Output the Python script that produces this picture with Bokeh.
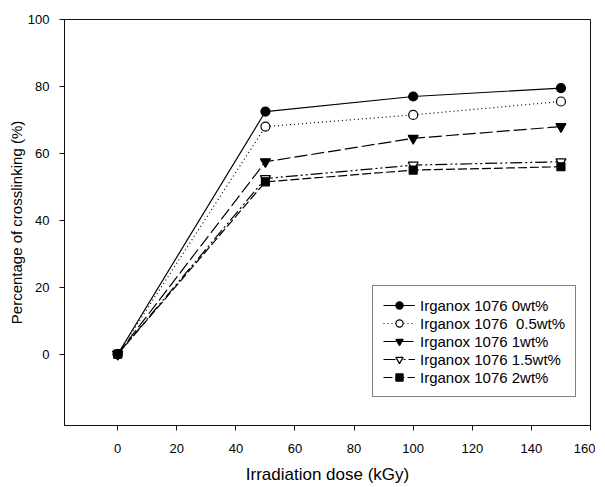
from bokeh.plotting import figure
from bokeh.models import Range1d, FixedTicker, Legend, LegendItem
from bokeh.embed import file_html
from bokeh.resources import INLINE

# ---- data ----
dose = [0, 50, 100, 150]
series_names = ["Irganox 1076 0wt%", "Irganox 1076  0.5wt%", "Irganox 1076 1wt%",
                "Irganox 1076 1.5wt%", "Irganox 1076 2wt%"]
irg_0 = [0, 72.5, 77.0, 79.5]
irg_05 = [0, 68.0, 71.5, 75.5]
irg_1 = [0, 57.5, 64.5, 68.0]
irg_15 = [0, 52.5, 56.5, 57.5]
irg_2 = [0, 51.5, 55.0, 56.0]
x_ticks = [0, 20, 40, 60, 80, 100, 120, 140, 160]
y_ticks = [0, 20, 40, 60, 80, 100]

FONT = "Liberation Sans"

p = figure(width=595, height=486, output_backend="svg", toolbar_location=None,
           x_range=Range1d(-18, 160), y_range=Range1d(-21.3, 100),
           min_border_left=64, min_border_right=5, min_border_top=19,
           min_border_bottom=58)
p.title = None
p.xgrid.visible = False
p.ygrid.visible = False
p.outline_line_color = "#111111"
p.outline_line_width = 1
p.background_fill_color = "white"
p.border_fill_color = "white"

for ax in (p.xaxis[0], p.yaxis[0]):
    ax.axis_line_color = "#111111"
    ax.major_tick_line_color = "#111111"
    ax.minor_tick_line_color = None
    ax.major_tick_in = 0
    ax.major_tick_out = 5
    ax.major_label_text_font = FONT
    ax.major_label_text_font_size = "13px"
    ax.major_label_text_color = "black"
    ax.axis_label_text_font = FONT
    ax.axis_label_text_font_style = "normal"
    ax.axis_label_text_color = "black"

p.xaxis.ticker = FixedTicker(ticks=x_ticks)
p.yaxis.ticker = FixedTicker(ticks=y_ticks)
p.xaxis.axis_label = "Irradiation dose (kGy)"
p.yaxis.axis_label = "Percentage of crosslinking (%)"
p.xaxis.axis_label_text_font_size = "17px"
p.yaxis.axis_label_text_font_size = "15px"
p.xaxis.major_label_standoff = 13
p.yaxis.major_label_standoff = 10
p.xaxis.axis_label_standoff = 9
p.yaxis.axis_label_standoff = 0

specs = [
    (irg_0, None, "circle", "black", 9),
    (irg_05, "1 3", "circle", "white", 9),
    (irg_1, "13 4", "inverted_triangle", "black", 10),
    (irg_15, "12 3 2 3 2 3", "inverted_triangle", "white", 10),
    (irg_2, "9 3", "square", "black", 8),
]

items = []
for name, (vals, dash, marker, fill, size) in zip(series_names, specs):
    lkw = dict(line_color="black", line_width=1.2)
    if dash:
        lkw["line_dash"] = dash
    ln = p.line(dose, vals, **lkw)
    sc = p.scatter(dose, vals, marker=marker, size=size, fill_color=fill,
                   line_color="black", line_width=1.2)
    items.append(LegendItem(label=name, renderers=[ln, sc]))

legend = Legend(items=items, location=(308, 28))
legend.label_text_font = FONT
legend.label_text_font_size = "15px"
legend.label_text_color = "black"
legend.glyph_width = 32
legend.glyph_height = 18
legend.label_height = 18
legend.label_standoff = 5
legend.spacing = 0
legend.padding = 10
legend.margin = 0
legend.border_line_color = "black"
legend.border_line_width = 1
legend.background_fill_alpha = 1
p.add_layout(legend, "center")

open("out.html", "w").write(file_html(p, INLINE))
